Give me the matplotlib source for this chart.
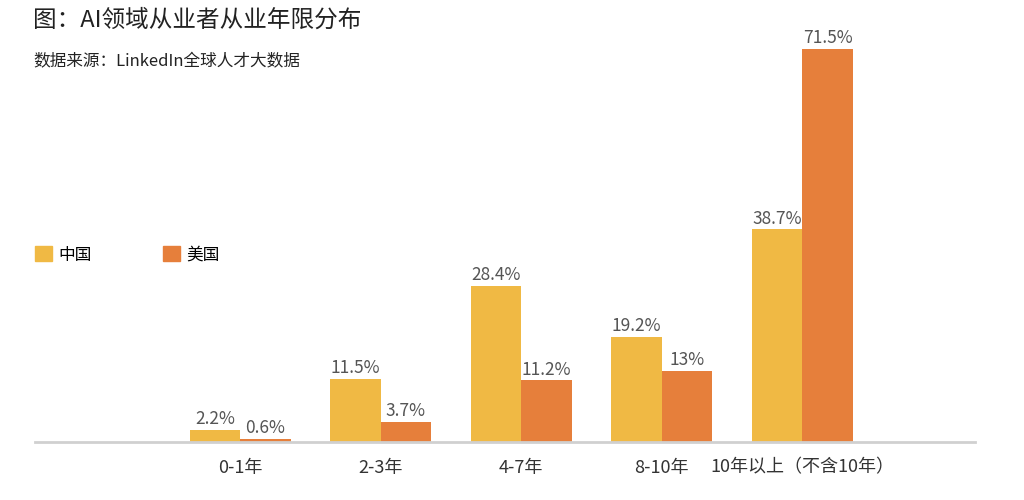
import matplotlib.pyplot as plt
from matplotlib.patches import Patch

plt.rcParams['font.family'] = ['Noto Sans CJK SC', 'DejaVu Sans']

categories = ['0-1年', '2-3年', '4-7年', '8-10年', '10年以上（不含10年）']
china = [2.2, 11.5, 28.4, 19.2, 38.7]
usa = [0.6, 3.7, 11.2, 13, 71.5]
china_labels = ['2.2%', '11.5%', '28.4%', '19.2%', '38.7%']
usa_labels = ['0.6%', '3.7%', '11.2%', '13%', '71.5%']

c_china = '#F0B944'
c_usa = '#E67F3B'

fig = plt.figure(figsize=(10.24, 5), dpi=100)
ax = fig.add_axes([35 / 1024, 58 / 500, 940 / 1024, 422 / 500])

x = [i + 1 for i in range(len(categories))]
w = 0.36
b1 = ax.bar([i - w / 2 for i in x], china, w, color=c_china)
b2 = ax.bar([i + w / 2 for i in x], usa, w, color=c_usa)

for bars, labels in [(b1, china_labels), (b2, usa_labels)]:
    for b, t in zip(bars, labels):
        ax.text(b.get_x() + b.get_width() / 2, b.get_height() + 0.3, t,
                ha='center', va='bottom', fontsize=12.5, color='#555555')

ax.set_xlim(-0.46, 6.23)
ax.set_ylim(0, 76.8)
ax.set_xticks(x)
ax.set_xticklabels(categories, fontsize=13, color='#333333')
ax.tick_params(axis='x', length=0, pad=12)
ax.set_yticks([])
for s in ['top', 'right', 'left']:
    ax.spines[s].set_visible(False)
ax.spines['bottom'].set_color('#d0d0d0')
ax.spines['bottom'].set_linewidth(2)

handles = [Patch(color=c_china, label='中国'), Patch(color=c_usa, label='美国')]
fig.legend(handles=handles, loc='center left', bbox_to_anchor=(20 / 1024, 1 - 255 / 500),
           ncol=2, frameon=False, fontsize=12, handlelength=1.0, handleheight=1.0,
           handletextpad=0.4, columnspacing=4.3)

fig.text(33 / 1024, 1 - 20 / 500, '图：AI领域从业者从业年限分布', fontsize=17, va='center', color='#222222')
fig.text(33 / 1024, 1 - 62 / 500, '数据来源：LinkedIn全球人才大数据', fontsize=12, va='center', color='#222222')

fig.savefig('out.png', dpi=100)
